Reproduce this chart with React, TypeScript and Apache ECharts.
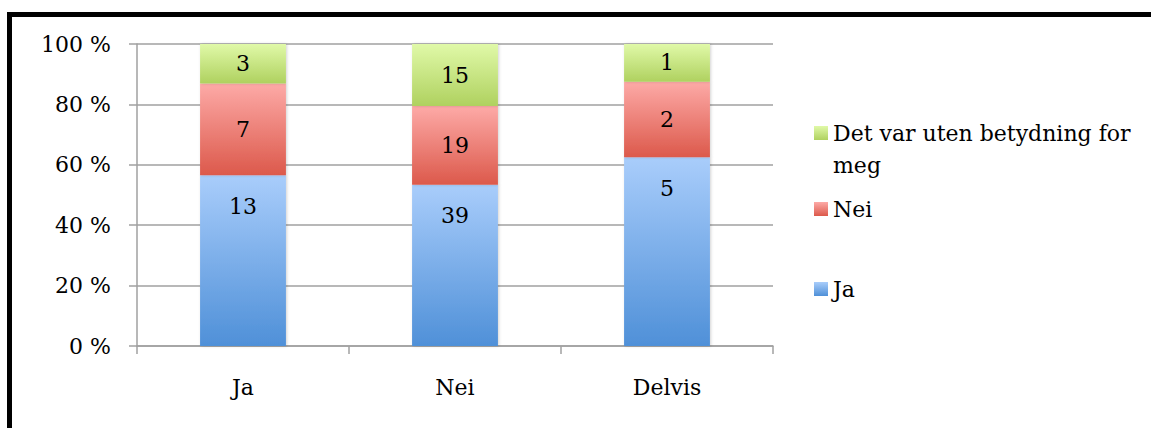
import React, { useEffect, useRef } from 'react';
import * as echarts from 'echarts';

const categories = ['Ja', 'Nei', 'Delvis'];
const seriesNames = ['Ja', 'Nei', 'Det var uten betydning for meg'];
const jaCounts = [13, 39, 5];
const neiCounts = [7, 19, 2];
const utenCounts = [3, 15, 1];
const yMin = 0;
const yMax = 100;
const yStep = 20;

const FONT = 'DejaVu Serif';

const totals = categories.map((_, i) => jaCounts[i] + neiCounts[i] + utenCounts[i]);
const toPct = (counts: number[]) =>
  counts.map((c, i) => ({ value: (c / totals[i]) * 100, count: c }));

const grad = (top: string, bottom: string) =>
  new echarts.graphic.LinearGradient(0, 0, 0, 1, [
    { offset: 0, color: top },
    { offset: 1, color: bottom },
  ]);

const colors = [
  grad('#A9CDFB', '#4F90D8'),
  grad('#FDAAA7', '#DC594B'),
  grad('#E0F9A8', '#AFD15F'),
];

const labelStyle = {
  show: true,
  color: '#000',
  fontFamily: FONT,
  fontSize: 22,
  formatter: (p: any) => String(p.data.count),
};

export default function App() {
  const ref = useRef<HTMLDivElement>(null);
  useEffect(() => {
    const chart = echarts.init(ref.current!, null, { renderer: 'svg' });
    const counts = [jaCounts, neiCounts, utenCounts];
    const option: any = {
      animation: false,
      backgroundColor: '#fff',
      textStyle: { fontFamily: FONT },
      grid: { left: 137, right: 378, top: 44, bottom: 82, containLabel: false },
      xAxis: {
        type: 'category',
        data: categories,
        axisLine: { lineStyle: { color: '#A0A0A0', width: 1.5 } },
        axisTick: { show: true, length: 8, lineStyle: { color: '#A0A0A0', width: 1.5 } },
        axisLabel: { color: '#000', fontFamily: FONT, fontSize: 22, margin: 30 },
      },
      yAxis: {
        type: 'value',
        min: yMin,
        max: yMax,
        interval: yStep,
        axisLine: { show: true, lineStyle: { color: '#A0A0A0', width: 1.5 } },
        axisTick: { show: true, length: 8, lineStyle: { color: '#A0A0A0', width: 1.5 } },
        splitLine: { show: true, lineStyle: { color: '#A0A0A0', width: 1.5 } },
        axisLabel: {
          color: '#000',
          fontFamily: FONT,
          fontSize: 22,
          margin: 26,
          formatter: (v: number) => `${v} %`,
        },
      },
      legend: [
        {
          data: [seriesNames[2]],
          left: 809,
          top: 80,
          itemWidth: 14,
          itemHeight: 14,
          icon: 'rect',
          formatter: () => '\u00a0\nDet var uten betydning for\nmeg',
          textStyle: {
            color: '#000',
            fontFamily: FONT,
            fontSize: 22,
            lineHeight: 32,
          },
        },
        {
          data: [seriesNames[1]],
          left: 809,
          top: 193,
          itemWidth: 14,
          itemHeight: 14,
          icon: 'rect',
          textStyle: { color: '#000', fontFamily: FONT, fontSize: 22, lineHeight: 22 },
        },
        {
          data: [seriesNames[0]],
          left: 809,
          top: 273,
          itemWidth: 14,
          itemHeight: 14,
          icon: 'rect',
          textStyle: { color: '#000', fontFamily: FONT, fontSize: 22, lineHeight: 22 },
        },
      ],
      series: seriesNames.map((name, si) => ({
        name,
        type: 'bar',
        stack: 'total',
        barWidth: '40.5%',
        data: toPct(counts[si]),
        itemStyle: {
          color: colors[si],
          shadowColor: 'rgba(0,0,0,0.18)',
          shadowBlur: 3,
          shadowOffsetX: 1,
        },
        label:
          si === 0
            ? { ...labelStyle, position: 'insideTop', distance: 20 }
            : { ...labelStyle, position: 'inside' },
      })),
      graphic: [
        { type: 'rect', shape: { x: 7, y: 12, width: 5, height: 416 }, style: { fill: '#000' }, z: 100 },
        { type: 'rect', shape: { x: 7, y: 12, width: 1144, height: 5 }, style: { fill: '#000' }, z: 100 },
      ],
    };
    chart.setOption(option);
    return () => chart.dispose();
  }, []);
  return (
    <div
      ref={ref}
      style={{ position: 'fixed', left: 0, top: 0, width: 1151, height: 428, background: '#fff' }}
    />
  );
}
